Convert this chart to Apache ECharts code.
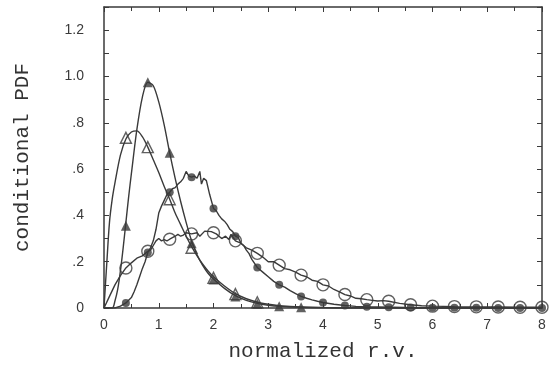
<!DOCTYPE html>
<html>
<head>
<meta charset="utf-8">
<script src="https://cdn.jsdelivr.net/npm/echarts@6/dist/echarts.min.js"></script>
<style>
html,body{margin:0;padding:0;background:#fff;}
#chart{width:549px;height:372px;}
</style>
</head>
<body>
<div id="chart"></div>
<script>
// ---- data ----
// filled triangles (smooth curve)
const ftX = [0, 0.15, 0.2, 0.25, 0.3, 0.35, 0.4, 0.45, 0.5, 0.6, 0.7, 0.8, 0.9, 1.0, 1.1, 1.2, 1.3, 1.4, 1.5, 1.6, 1.7, 1.8, 1.9, 2.0, 2.2, 2.4, 2.6, 2.8, 3.0, 3.2, 3.6, 4.0, 4.5, 8];
const ftY = [0, 0, 0.03, 0.08, 0.16, 0.26, 0.37, 0.48, 0.58, 0.77, 0.91, 0.975, 0.96, 0.89, 0.79, 0.67, 0.56, 0.46, 0.37, 0.29, 0.23, 0.185, 0.15, 0.125, 0.085, 0.053, 0.033, 0.02, 0.012, 0.007, 0.003, 0.001, 0, 0];
// open triangles (smooth curve)
const otX = [0, 0.05, 0.1, 0.15, 0.2, 0.3, 0.4, 0.5, 0.6, 0.7, 0.8, 0.9, 1.0, 1.1, 1.2, 1.3, 1.4, 1.5, 1.6, 1.7, 1.8, 1.9, 2.0, 2.2, 2.4, 2.6, 2.8, 3.0, 3.2, 3.6, 4.0, 4.5, 8];
const otY = [0, 0.19, 0.37, 0.47, 0.54, 0.66, 0.73, 0.76, 0.765, 0.74, 0.695, 0.64, 0.585, 0.525, 0.47, 0.41, 0.36, 0.31, 0.265, 0.225, 0.19, 0.16, 0.135, 0.095, 0.062, 0.04, 0.025, 0.016, 0.01, 0.004, 0.002, 0.0005, 0];
// filled circles (jagged curve)
const fcX = [0, 0.2, 0.3, 0.4, 0.5, 0.55, 0.6, 0.65, 0.7, 0.75, 0.8, 0.85, 0.9, 0.95, 1.0, 1.05, 1.1, 1.15, 1.2, 1.25, 1.3, 1.35, 1.4, 1.45, 1.5, 1.55, 1.6, 1.65, 1.7, 1.75, 1.78, 1.82, 1.87, 1.93, 2.0, 2.05, 2.1, 2.15, 2.2, 2.25, 2.3, 2.35, 2.4, 2.45, 2.5, 2.55, 2.6, 2.65, 2.7, 2.8, 2.9, 3.0, 3.1, 3.2, 3.3, 3.4, 3.5, 3.6, 3.7, 3.8, 3.9, 4.0, 4.2, 4.4, 4.6, 4.8, 5.0, 5.5, 6.0, 7.0, 8.0];
const fcY = [0, 0, 0.008, 0.022, 0.045, 0.07, 0.1, 0.135, 0.17, 0.2, 0.24, 0.26, 0.29, 0.34, 0.41, 0.44, 0.465, 0.49, 0.5, 0.515, 0.52, 0.535, 0.545, 0.56, 0.59, 0.57, 0.565, 0.57, 0.56, 0.59, 0.535, 0.56, 0.55, 0.49, 0.43, 0.42, 0.40, 0.385, 0.375, 0.36, 0.34, 0.33, 0.31, 0.305, 0.28, 0.27, 0.25, 0.235, 0.21, 0.175, 0.155, 0.135, 0.115, 0.10, 0.09, 0.075, 0.062, 0.05, 0.042, 0.035, 0.029, 0.024, 0.016, 0.011, 0.007, 0.005, 0.004, 0.002, 0.001, 0, 0];
// open circles (jagged curve)
const ocX = [0, 0.1, 0.2, 0.3, 0.4, 0.5, 0.6, 0.7, 0.8, 0.85, 0.9, 0.95, 1.0, 1.05, 1.1, 1.15, 1.2, 1.3, 1.35, 1.4, 1.45, 1.5, 1.6, 1.7, 1.75, 1.84, 1.96, 2.05, 2.15, 2.22, 2.28, 2.32, 2.4, 2.5, 2.6, 2.7, 2.8, 2.9, 3.0, 3.1, 3.2, 3.3, 3.4, 3.5, 3.6, 3.7, 3.8, 3.9, 4.0, 4.1, 4.2, 4.3, 4.4, 4.5, 4.6, 4.7, 4.8, 4.9, 5.0, 5.1, 5.2, 5.4, 5.6, 5.8, 6.0, 6.4, 6.8, 7.2, 7.6, 8.0];
const ocY = [0, 0.05, 0.1, 0.14, 0.173, 0.195, 0.215, 0.225, 0.245, 0.25, 0.27, 0.29, 0.30, 0.29, 0.295, 0.29, 0.297, 0.31, 0.318, 0.31, 0.315, 0.325, 0.32, 0.325, 0.31, 0.332, 0.33, 0.32, 0.30, 0.31, 0.296, 0.318, 0.29, 0.28, 0.26, 0.25, 0.236, 0.22, 0.20, 0.2, 0.185, 0.17, 0.165, 0.155, 0.142, 0.135, 0.12, 0.115, 0.10, 0.095, 0.08, 0.07, 0.058, 0.052, 0.042, 0.04, 0.036, 0.033, 0.03, 0.032, 0.029, 0.02, 0.014, 0.01, 0.008, 0.006, 0.005, 0.004, 0.003, 0.003];

// marker positions
const ftMX = [0.4, 0.8, 1.2, 1.6, 2.0, 2.4, 2.8, 3.2, 3.6];
const ftMY = [0.355, 0.975, 0.67, 0.28, 0.123, 0.05, 0.018, 0.008, 0.003];
const otMX = [0.4, 0.8, 1.2, 1.6, 2.0, 2.4, 2.8];
const otMY = [0.735, 0.695, 0.47, 0.26, 0.13, 0.06, 0.025];
const fcMX = [0.4, 0.8, 1.2, 1.6, 2.0, 2.4, 2.8, 3.2, 3.6, 4.0, 4.4, 4.8, 5.2, 5.6, 6.0, 6.4, 6.8, 7.2, 7.6, 8.0];
const fcMY = [0.022, 0.24, 0.5, 0.565, 0.43, 0.31, 0.175, 0.10, 0.05, 0.024, 0.011, 0.005, 0.003, 0.002, 0.001, 0.001, 0.001, 0, 0, 0];
const ocMX = [0.4, 0.8, 1.2, 1.6, 2.0, 2.4, 2.8, 3.2, 3.6, 4.0, 4.4, 4.8, 5.2, 5.6, 6.0, 6.4, 6.8, 7.2, 7.6, 8.0];
const ocMY = [0.173, 0.245, 0.297, 0.32, 0.325, 0.29, 0.236, 0.185, 0.142, 0.10, 0.058, 0.036, 0.029, 0.014, 0.008, 0.006, 0.005, 0.004, 0.003, 0.003];

const xTitle = 'normalized r.v.';
const yTitle = 'conditional PDF';

// ---- chart ----
const zip = (xs, ys) => xs.map((x, i) => [x, ys[i]]);
const ink = '#3a3a3a';
const chart = echarts.init(document.getElementById('chart'), null, {renderer: 'canvas'});

const tickCommon = {
  axisLine: {show: true, onZero: false, lineStyle: {color: ink, width: 1.5}},
  splitLine: {show: false},
};

function yLabel(v) {
  const k = Math.round(v * 10);
  if (k % 2) return '';
  if (k === 0) return '0';
  if (k >= 10) return (k / 10).toFixed(1);
  return '.' + k;
}

const lineS = (data, smooth) => ({
  type: 'line', data, showSymbol: false, smooth: smooth, symbol: 'none',
  lineStyle: {color: ink, width: 1.4}, z: 2, silent: true
});

const titleFont = {fontFamily: 'Liberation Mono', fontSize: 21, color: '#333'};

const option = {
  backgroundColor: '#ffffff',
  animation: false,
  grid: {left: 104, right: 7, top: 7, bottom: 64},
  xAxis: [
    Object.assign({
      type: 'value', min: 0, max: 8, interval: 1, position: 'bottom',
      name: xTitle, nameLocation: 'middle', nameGap: 33,
      nameTextStyle: titleFont,
      axisTick: {show: true, inside: true, length: 5, lineStyle: {color: ink}},
      minorTick: {show: true, splitNumber: 2, length: 4, lineStyle: {color: ink}},
      axisLabel: {color: '#3a3a3a', fontSize: 14, margin: 10, fontFamily: 'Liberation Sans'}
    }, tickCommon),
    Object.assign({
      type: 'value', min: 0, max: 8, interval: 1, position: 'top',
      axisTick: {show: true, inside: true, length: 5, lineStyle: {color: ink}},
      minorTick: {show: true, splitNumber: 2, length: 4, lineStyle: {color: ink}},
      axisLabel: {show: false}
    }, tickCommon)
  ],
  yAxis: [
    Object.assign({
      type: 'value', min: 0, max: 1.3, interval: 0.1, position: 'left',
      name: yTitle, nameLocation: 'middle', nameGap: 71, nameRotate: 90,
      nameTextStyle: titleFont,
      axisTick: {show: true, inside: true, length: 5, lineStyle: {color: ink}},
      axisLabel: {color: '#3a3a3a', fontSize: 14, margin: 20, formatter: yLabel, fontFamily: 'Liberation Sans'}
    }, tickCommon),
    Object.assign({
      type: 'value', min: 0, max: 1.3, interval: 0.1, position: 'right',
      axisTick: {show: true, inside: true, length: 5, lineStyle: {color: ink}},
      axisLabel: {show: false}
    }, tickCommon)
  ],
  series: [
    lineS(zip(ocX, ocY), false),
    lineS(zip(fcX, fcY), false),
    lineS(zip(otX, otY), 0.3),
    lineS(zip(ftX, ftY), 0.3),
    {type: 'scatter', data: zip(otMX, otMY), symbol: 'triangle', symbolSize: 11,
     itemStyle: {color: 'rgba(255,255,255,0)', borderColor: ink, borderWidth: 1.4}, z: 3, silent: true},
    {type: 'scatter', data: zip(ocMX, ocMY), symbol: 'circle', symbolSize: 12,
     itemStyle: {color: 'rgba(255,255,255,0)', borderColor: ink, borderWidth: 1.4}, z: 3, silent: true},
    {type: 'scatter', data: zip(fcMX, fcMY), symbol: 'circle', symbolSize: 8,
     itemStyle: {color: ink}, z: 4, silent: true},
    {type: 'scatter', data: zip(ftMX, ftMY), symbol: 'triangle', symbolSize: 10,
     itemStyle: {color: ink}, z: 4, silent: true}
  ]
};
chart.setOption(option);
</script>
</body>
</html>
